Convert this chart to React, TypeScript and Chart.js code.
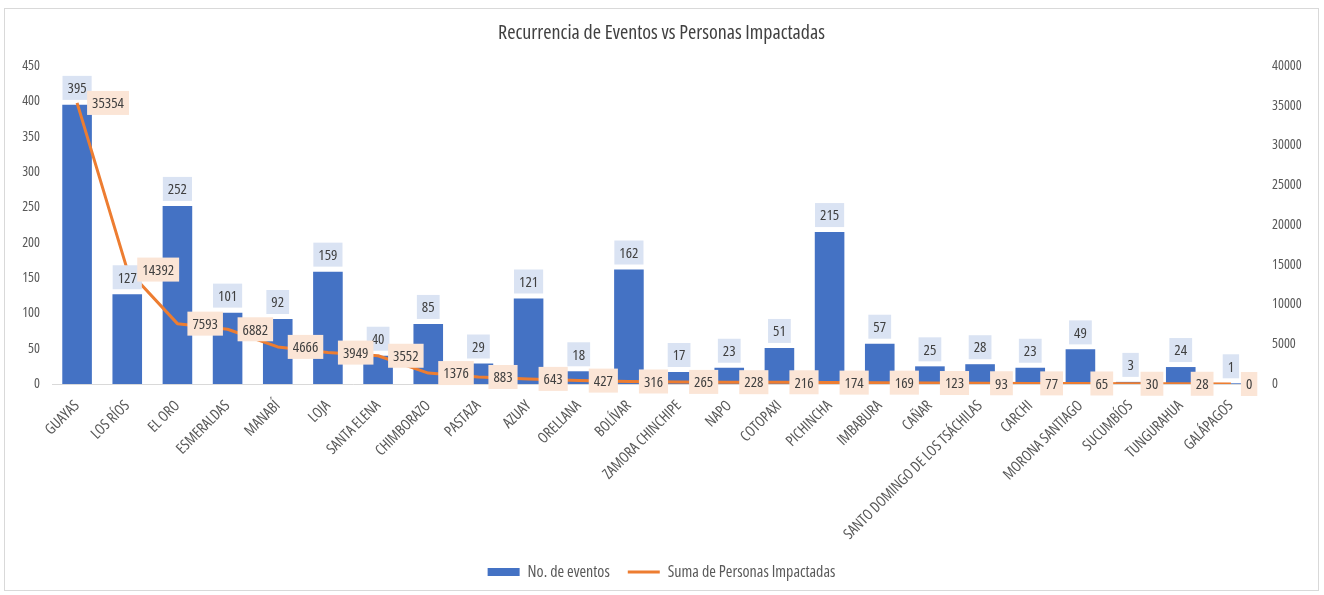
import React, { useEffect, useRef } from "react";
import { Chart, registerables } from "chart.js";

Chart.register(...registerables);

const categories = [
  "GUAYAS", "LOS RÍOS", "EL ORO", "ESMERALDAS", "MANABÍ", "LOJA", "SANTA ELENA",
  "CHIMBORAZO", "PASTAZA", "AZUAY", "ORELLANA", "BOLÍVAR", "ZAMORA CHINCHIPE",
  "NAPO", "COTOPAXI", "PICHINCHA", "IMBABURA", "CAÑAR",
  "SANTO DOMINGO DE LOS TSÁCHILAS", "CARCHI", "MORONA SANTIAGO", "SUCUMBÍOS",
  "TUNGURAHUA", "GALÁPAGOS",
];
const eventos = [395, 127, 252, 101, 92, 159, 40, 85, 29, 121, 18, 162, 17, 23, 51, 215, 57, 25, 28, 23, 49, 3, 24, 1];
const personas = [35354, 14392, 7593, 6882, 4666, 3949, 3552, 1376, 883, 643, 427, 316, 265, 228, 216, 174, 169, 123, 93, 77, 65, 30, 28, 0];
const leftTicks = { min: 0, max: 450, step: 50 };
const rightTicks = { min: 0, max: 40000, step: 5000 };

const FONT = "'Open Sans', 'Noto Sans', Roboto, sans-serif";
const COND = "condensed";
const BLUE = "#4472C4";
const ORANGE = "#ED7D31";
const TEXT = "#595959";

const labelPlugin = {
  id: "boxLabels",
  afterDatasetsDraw(chart: any) {
    const ctx = chart.ctx;
    ctx.save();
    ctx.font = `${COND} 15px ${FONT}`;
    ctx.textAlign = "center";
    ctx.textBaseline = "middle";
    const h = 24;
    const barMeta = chart.getDatasetMeta(1);
    barMeta.data.forEach((el: any, i: number) => {
      const t = String(eventos[i]);
      const w = ctx.measureText(t).width + 10;
      const top = el.y - 5 - h;
      ctx.fillStyle = "#DAE3F3";
      ctx.fillRect(el.x - w / 2, top, w, h);
      ctx.fillStyle = "#404040";
      ctx.fillText(t, el.x, top + h / 2 + 1);
    });
    const lineMeta = chart.getDatasetMeta(0);
    lineMeta.data.forEach((el: any, i: number) => {
      const t = String(personas[i]);
      const w = ctx.measureText(t).width + 10;
      const left = el.x + 10;
      ctx.fillStyle = "#FBE5D6";
      ctx.fillRect(left, el.y - h / 2, w, h);
      ctx.fillStyle = "#404040";
      ctx.fillText(t, left + w / 2, el.y + 1);
    });
    ctx.restore();
  },
};

export default function App() {
  const ref = useRef<HTMLCanvasElement | null>(null);
  useEffect(() => {
    if (!ref.current) return;
    const chart = new Chart(ref.current, {
      type: "bar",
      data: {
        labels: categories,
        datasets: [
          {
            type: "line",
            label: "Suma de Personas Impactadas",
            data: personas,
            borderColor: ORANGE,
            backgroundColor: ORANGE,
            borderWidth: 3,
            pointRadius: 0,
            tension: 0,
            borderJoinStyle: "round",
            yAxisID: "y2",
            order: 0,
          } as any,
          {
            type: "bar",
            label: "No. de eventos",
            data: eventos,
            backgroundColor: BLUE,
            barPercentage: 0.59,
            categoryPercentage: 1,
            yAxisID: "y",
            order: 1,
          },
        ],
      },
      options: {
        animation: false,
        responsive: false,
        layout: { padding: { top: 0, bottom: 0, left: 0, right: 0 } },
        plugins: {
          tooltip: { enabled: false },
          title: {
            display: true,
            text: "Recurrencia de Eventos vs Personas Impactadas",
            color: "#404040",
            font: { family: FONT, size: 20, weight: COND as any },
            padding: { top: 12, bottom: 21 },
          },
          legend: {
            position: "bottom",
            labels: {
              usePointStyle: true,
              pointStyleWidth: 32,
              boxHeight: 8,
              padding: 18,
              color: TEXT,
              font: { family: FONT, size: 16, weight: COND as any },
              generateLabels: () => [
                {
                  text: "No. de eventos",
                  fillStyle: BLUE,
                  strokeStyle: BLUE,
                  lineWidth: 0,
                  pointStyle: "rect",
                  datasetIndex: 1,
                  fontColor: TEXT,
                } as any,
                {
                  text: "Suma de Personas Impactadas",
                  fillStyle: ORANGE,
                  strokeStyle: ORANGE,
                  lineWidth: 3,
                  pointStyle: "line",
                  datasetIndex: 0,
                  fontColor: TEXT,
                } as any,
              ],
            },
          },
        },
        scales: {
          x: {
            grid: { display: false, drawTicks: false },
            border: { display: true, color: "#D9D9D9" },
            ticks: {
              autoSkip: false,
              minRotation: 45,
              maxRotation: 45,
              color: TEXT,
              padding: 13,
              font: { family: FONT, size: 15, weight: COND as any },
            },
            afterFit: (s: any) => { s.height = 162; },
          },
          y: {
            position: "left",
            min: leftTicks.min,
            max: leftTicks.max,
            grid: { display: false, drawTicks: false },
            border: { display: false },
            ticks: {
              stepSize: leftTicks.step,
              color: TEXT,
              padding: 12,
              font: { family: FONT, size: 14, weight: COND as any },
            },
            afterFit: (s: any) => { s.width = 47; },
          },
          y2: {
            position: "right",
            min: rightTicks.min,
            max: rightTicks.max,
            grid: { display: false, drawTicks: false },
            border: { display: false },
            ticks: {
              stepSize: rightTicks.step,
              color: TEXT,
              padding: 16,
              font: { family: FONT, size: 14, weight: COND as any },
              callback: (v: any) => String(v),
            },
            afterFit: (s: any) => { s.width = 62; },
          },
        },
      },
      plugins: [labelPlugin],
    });
    return () => chart.destroy();
  }, []);

  return (
    <div
      style={{
        position: "fixed",
        left: 4,
        top: 8,
        width: 1315,
        height: 583,
        border: "1px solid #D9D9D9",
        boxSizing: "border-box",
        background: "#fff",
      }}
    >
      <canvas ref={ref} width={1313} height={581} style={{ display: "block" }} />
    </div>
  );
}
